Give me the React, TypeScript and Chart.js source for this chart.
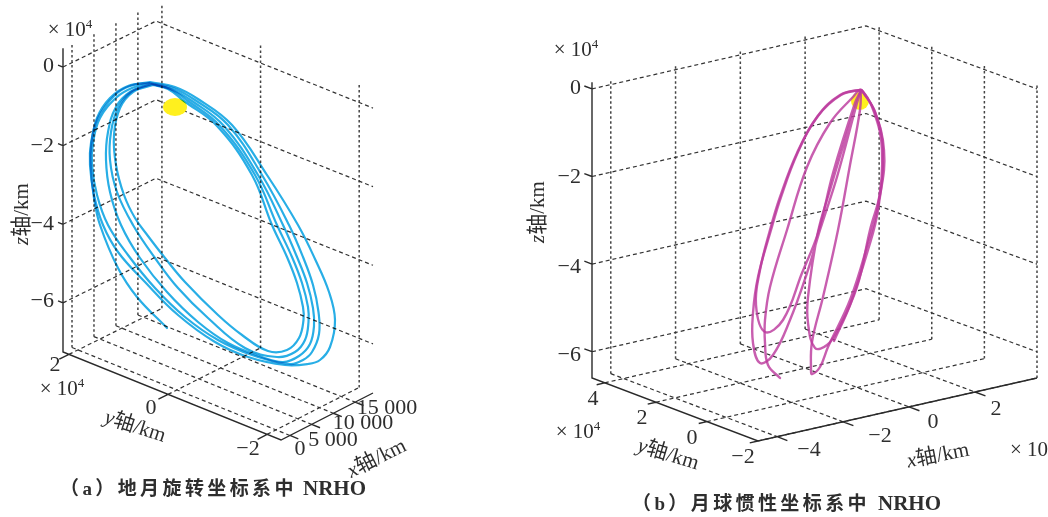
import React, { useEffect, useRef } from "react";
import { Chart, registerables } from "chart.js";

Chart.register(...registerables);

// ---------- panel (a): tick values ----------
const aXTicks = [0, 5000, 10000, 15000];
const aXTickLabels = ["0", "5 000", "10 000", "15 000"];
const aYTicks = [2, 0, -2];
const aYTickLabels = ["2", "0", "\u22122"];
const aZTicks = [0, -2, -4, -6];
const aZTickLabels = ["0", "\u22122", "\u22124", "\u22126"];

// ---------- panel (b): tick values ----------
const bXTicks = [-4, -2, 0, 2];
const bXTickLabels = ["\u22124", "\u22122", "0", "2"];
const bYTicks = [4, 2, 0, -2];
const bYTickLabels = ["4", "2", "0", "\u22122"];
const bZTicks = [0, -2, -4, -6];
const bZTickLabels = ["0", "\u22122", "\u22124", "\u22126"];

// ---------- orbit traces (projected plane) ----------
const orbitA1 = [[150, 82], [175, 87], [198, 99], [232, 125], [267, 175], [298, 225], [315, 259], [329, 292], [335, 320], [330, 347], [320, 360], [308, 364], [285, 365], [248, 357], [215, 342], [178, 315], [145, 282], [118, 252], [103, 225], [94, 195], [90, 165], [91, 143], [98, 118], [115, 95], [130, 86], [150, 82]];
const orbitA2 = [[150, 83], [173, 88], [195, 100], [228, 125], [262, 175], [289, 225], [303, 257], [313, 285], [318.5, 312], [319, 334], [312, 352], [303, 360], [290, 364], [252, 355], [218, 340], [185, 317], [155, 288], [128, 255], [108, 225], [97, 195], [92, 165], [93, 143], [100, 118], [117, 97], [132, 88], [150, 83]];
const orbitA3 = [[151, 84], [171, 89], [192, 101], [224, 126], [258, 175], [283, 225], [297, 257], [307, 283], [313, 308], [314, 326], [310, 344], [299, 356], [283, 362], [262, 357], [228, 343], [198, 322], [167, 292], [140, 258], [121, 225], [110, 192], [106, 160], [108, 132], [116, 107], [130, 92], [151, 84]];
const orbitA4 = [[152, 84], [170, 89], [188, 101], [220, 126], [255, 175], [277, 225], [292, 257], [302, 283], [308, 307], [308.5, 322], [305, 340], [295, 352], [277, 357], [245, 348], [208, 318], [178, 288], [155, 258], [133, 225], [117, 192], [110, 160], [111, 132], [118, 108], [131, 92], [152, 84]];
const orbitA5 = [[153, 85], [168, 89], [184, 101], [217, 126], [252, 175], [272, 225], [287, 257], [297, 283], [303, 307], [303.5, 320], [299, 338], [287, 350], [268, 351], [242, 335], [218, 315], [185, 282], [165, 258], [148, 236], [135, 218], [124, 195], [116, 165], [114, 135], [120, 108], [133, 92], [153, 85]];
const orbitA6 = [[149, 83], [128, 86], [110, 98], [97, 118], [91, 147], [91, 170], [94, 198], [100, 225], [118, 268], [137, 297], [167, 328]];

const orbitB1 = [[834, 341], [850, 305], [868, 250], [878, 210], [883, 150], [875, 112], [863, 92], [861, 90], [840, 95], [817, 117], [797, 153], [780, 197], [770, 230], [760, 270], [756, 305], [765, 332], [783, 320], [802, 273], [818, 233], [833, 173], [855, 103], [861, 90]];
const orbitB2 = [[861, 90], [845, 140], [830, 190], [818, 232], [808, 297], [808, 323], [815, 348], [827, 345], [838, 330], [857, 287], [870, 230], [881, 190], [884, 150], [875, 112], [863, 92], [861, 90], [841, 95], [818, 116], [798, 152], [781, 197], [771, 230], [758, 277], [753, 313], [753, 343], [760, 363], [773, 355], [790, 320], [807, 273], [820, 230], [837, 177], [857, 103], [861, 90]];
const orbitB3 = [[861, 90], [860, 110], [850, 165], [838, 230], [823, 297], [812, 342], [811, 370], [812, 374], [820, 367], [828, 347], [850, 300], [868, 243], [878, 205], [882, 150], [874, 112], [861, 90], [853, 97], [830, 123], [807, 167], [787, 230], [770, 287], [765, 320], [765, 343], [768, 365], [780, 378]];

const moonA = [[175, 107]];
const moonB = [[860, 101]];

const SERIF = '"Liberation Serif","Noto Sans CJK SC"';
const INK = "#2e2e2e";

type Pt = [number, number];
type Frame = {
  A: Pt; B: Pt; C: Pt; D: Pt;
  xr: [number, number]; yr: [number, number]; zr: [number, number];
  zUnit: number;
};

const frameA: Frame = { A: [63, 352], B: [281, 440], C: [373, 393], D: [156, 306], xr: [-2050, 19120], yr: [-2.28, 2.12], zr: [-7.25, 0.45], zUnit: 39.3 };
const frameB: Frame = { A: [592, 378], B: [758, 441], C: [1037, 378], D: [866, 315], xr: [-4.58, 3.88], yr: [-2, 4.5], zr: [-6.6, 0.12], zUnit: 43.8 };

function project(f: Frame, x: number, y: number, z: number) {
  const u = (x - f.xr[0]) / (f.xr[1] - f.xr[0]);
  const v = (f.yr[1] - y) / (f.yr[1] - f.yr[0]);
  const mix = (i: 0 | 1) =>
    (1 - u) * ((1 - v) * f.A[i] + v * f.B[i]) + u * ((1 - v) * f.D[i] + v * f.C[i]);
  return { x: mix(0), y: mix(1) - (z - f.zr[0]) * f.zUnit };
}

const GAP = { x: NaN, y: NaN };

function buildFrame(
  f: Frame, xT: number[], yT: number[], zT: number[],
  tick: { z: number; y: number; x: number }
) {
  const [x0, x1] = f.xr, [y0, y1] = f.yr, [z0, z1] = f.zr;
  const dashed: any[] = [];
  const dotted: any[] = [];
  const solid: any[] = [];
  const seg = (arr: any[], a: any, b: any) => arr.push(a, b, GAP);
  zT.forEach((z) => {
    dashed.push(project(f, x0, y1, z), project(f, x1, y1, z), project(f, x1, y0, z), GAP);
    seg(solid, project(f, x0, y1, z), project(f, x0, y1 + tick.z, z));
  });
  xT.forEach((x) => {
    seg(dashed, project(f, x, y1, z0), project(f, x, y0, z0));
    seg(dotted, project(f, x, y1, z0), project(f, x, y1, z1));
    seg(solid, project(f, x, y0, z0), project(f, x, y0 - tick.x, z0));
  });
  yT.forEach((y) => {
    seg(dashed, project(f, x0, y, z0), project(f, x1, y, z0));
    seg(dotted, project(f, x1, y, z0), project(f, x1, y, z1));
    seg(solid, project(f, x0, y, z0), project(f, x0 - tick.y, y, z0));
  });
  solid.push(project(f, x0, y1, z1 + 0.03), project(f, x0, y1, z0), project(f, x0, y0, z0), project(f, x1, y0, z0));
  return { dashed, dotted, solid };
}

function moonSprite(rx: number, ry: number) {
  const c = document.createElement("canvas");
  c.width = Math.ceil(rx * 2);
  c.height = Math.ceil(ry * 2);
  const g = c.getContext("2d")!;
  g.fillStyle = "#fff01e";
  g.beginPath();
  g.ellipse(rx, ry, rx, ry, 0, 0, Math.PI * 2);
  g.fill();
  return c;
}

type Run = [string, string?];
type Label = { runs: Run[]; x: number; y: number; rot?: number; align?: "left" | "center" | "right"; size?: number; weight?: string; spacing?: number };

function textPlugin(labels: Label[], blend: string) {
  return {
    id: "panelText",
    beforeDatasetDraw(chart: any, args: any) {
      if (args.meta.order === 1) {
        chart.ctx.save();
        chart.ctx.globalCompositeOperation = blend;
      }
    },
    afterDatasetDraw(chart: any, args: any) {
      if (args.meta.order === 1) chart.ctx.restore();
    },
    afterDatasetsDraw(chart: any) {
      const ctx = chart.ctx as CanvasRenderingContext2D;
      const xs = chart.scales.x, ys = chart.scales.y;
      labels.forEach((l) => {
        const size = l.size ?? 19;
        ctx.save();
        ctx.fillStyle = INK;
        ctx.textBaseline = "middle";
        ctx.textAlign = "left";
        (ctx as any).letterSpacing = `${l.spacing ?? 0}px`;
        const fontOf = (r: Run) => {
          if (r[1] === "sup") return `${Math.round(size * 0.62)}px ${SERIF}`;
          return `${r[1] === "italic" ? "italic " : ""}${l.weight ?? ""} ${size}px ${SERIF}`;
        };
        let total = 0;
        l.runs.forEach((r) => { ctx.font = fontOf(r); total += ctx.measureText(r[0]).width; });
        ctx.translate(xs.getPixelForValue(l.x), ys.getPixelForValue(l.y));
        ctx.rotate(((l.rot ?? 0) * Math.PI) / 180);
        let cx = l.align === "left" ? 0 : l.align === "right" ? -total : -total / 2;
        l.runs.forEach((r) => {
          ctx.font = fontOf(r);
          ctx.fillText(r[0], cx, r[1] === "sup" ? -size * 0.25 : 0);
          cx += ctx.measureText(r[0]).width;
        });
        ctx.restore();
      });
    },
  };
}

const lineStyle = { showLine: true, pointRadius: 0, pointHoverRadius: 0, fill: false };
const toPts = (a: number[][]) => a.map(([x, y]) => ({ x, y }));

function Panel(props: {
  left: number; width: number; xMin: number; xMax: number;
  frame: { dashed: any[]; dotted: any[]; solid: any[] };
  orbits: number[][][]; orbitColor: string; orbitWidth: number; blend: string;
  moon: number[][]; moonImg: () => HTMLCanvasElement; labels: Label[];
}) {
  const ref = useRef<HTMLCanvasElement>(null);
  useEffect(() => {
    const chart = new Chart(ref.current!, {
      type: "scatter",
      data: {
        datasets: [
          { ...lineStyle, data: props.frame.dashed, borderColor: "#333", borderWidth: 1.2, borderDash: [4, 3], tension: 0, order: 5 },
          { ...lineStyle, data: props.frame.dotted, borderColor: "#444", borderWidth: 1.5, borderDash: [2.5, 2.5], tension: 0, order: 5 },
          { ...lineStyle, data: props.frame.solid, borderColor: "#2a2a2a", borderWidth: 1.4, tension: 0, order: 4 },
          { data: toPts(props.moon), showLine: false, pointStyle: props.moonImg(), pointRadius: 9, order: 3 },
          ...props.orbits.map((o) => ({
            ...lineStyle, data: toPts(o), borderColor: props.orbitColor, borderWidth: props.orbitWidth,
            tension: 0.4, borderCapStyle: "round", borderJoinStyle: "round", order: 1,
          })),
        ],
      } as any,
      options: {
        animation: false, responsive: false, maintainAspectRatio: false,
        layout: { padding: 0, autoPadding: false },
        plugins: { legend: { display: false }, title: { display: false }, tooltip: { enabled: false } },
        events: [],
        scales: {
          x: { type: "linear", display: false, min: props.xMin, max: props.xMax },
          y: { type: "linear", display: false, min: 0, max: 517, reverse: true },
        },
      },
      plugins: [textPlugin(props.labels, props.blend)],
    } as any);
    return () => chart.destroy();
  }, []);
  return (
    <canvas
      ref={ref}
      width={props.width}
      height={517}
      style={{ position: "absolute", left: props.left, top: 0, width: props.width, height: 517 }}
    />
  );
}

const at = (vals: string[], pos: number[][], extra: Partial<Label> = {}): Label[] =>
  vals.map((t, i) => ({ runs: [[t]], x: pos[i][0], y: pos[i][1], ...extra }));

const labelsA: Label[] = [
  ...at(aZTickLabels, [[54, 66], [54, 146], [54, 224], [54, 301]], { align: "right", size: 22 }),
  ...at(aYTickLabels, [[55, 365], [151, 408], [248, 449]], { size: 22 }),
  ...at(aXTickLabels, [[300, 449], [333, 440], [363, 423], [387, 408]], { size: 22 }),
  { runs: [["\u00d7 10"], ["4", "sup"]], x: 70, y: 30, size: 21 },
  { runs: [["\u00d7 10"], ["4", "sup"]], x: 62, y: 389, size: 21 },
  { runs: [["z", "italic"], ["\u8f74/km"]], x: 22, y: 214, rot: -90, size: 21 },
  { runs: [["y", "italic"], ["\u8f74/km"]], x: 135, y: 427, rot: 18, size: 21 },
  { runs: [["x", "italic"], ["\u8f74/km"]], x: 377, y: 459, rot: -26.5, size: 21 },
  { runs: [["\uff08a\uff09\u5730\u6708\u65cb\u8f6c\u5750\u6807\u7cfb\u4e2d"]], x: 60, y: 490, size: 19, weight: "bold", spacing: 3.4, align: "left" },
  { runs: [["NRHO"]], x: 366, y: 490, size: 21, weight: "bold", align: "right" },
];

const labelsB: Label[] = [
  ...at(bZTickLabels, [[581, 88], [581, 177], [581, 267], [581, 355]], { align: "right", size: 22 }),
  ...at(bYTickLabels, [[593, 399], [642, 418], [692, 438], [743, 457]], { size: 22 }),
  ...at(bXTickLabels, [[809, 450], [880, 436], [933, 422], [996, 409]], { size: 22 }),
  { runs: [["\u00d7 10"], ["4", "sup"]], x: 576, y: 50, size: 21 },
  { runs: [["\u00d7 10"], ["4", "sup"]], x: 578, y: 432, size: 21 },
  { runs: [["\u00d7 10"]], x: 1010, y: 450, size: 21, align: "left" },
  { runs: [["z", "italic"], ["\u8f74/km"]], x: 538, y: 212, rot: -90, size: 21 },
  { runs: [["y", "italic"], ["\u8f74/km"]], x: 668, y: 455, rot: 17, size: 21 },
  { runs: [["x", "italic"], ["\u8f74/km"]], x: 938, y: 456, rot: -11, size: 21 },
  { runs: [["\uff08b\uff09\u6708\u7403\u60ef\u6027\u5750\u6807\u7cfb\u4e2d"]], x: 632, y: 505, size: 19, weight: "bold", spacing: 3.4, align: "left" },
  { runs: [["NRHO"]], x: 941, y: 505, size: 21, weight: "bold", align: "right" },
];

export default function App() {
  const gridA = buildFrame(frameA, aXTicks, aYTicks, aZTicks, { z: 0.1, y: 2200, x: 0.17 });
  const gridB = buildFrame(frameB, bXTicks, bYTicks, bZTicks, { z: 0.3, y: 0.25, x: 0.4 });
  return (
    <div style={{ position: "absolute", left: 0, top: 0, width: 1048, height: 517, background: "#fff", overflow: "hidden" }}>
      <Panel
        left={0} width={524} xMin={0} xMax={524} frame={gridA}
        orbits={[orbitA1, orbitA2, orbitA3, orbitA4, orbitA5, orbitA6]}
        orbitColor="#28aee6" orbitWidth={2.2} blend="multiply"
        moon={moonA} moonImg={() => moonSprite(12, 9)} labels={labelsA}
      />
      <Panel
        left={524} width={524} xMin={524} xMax={1048} frame={gridB}
        orbits={[orbitB1, orbitB2, orbitB3]}
        orbitColor="rgba(188,58,158,0.82)" orbitWidth={2.4} blend="source-over"
        moon={moonB} moonImg={() => moonSprite(9, 9)} labels={labelsB}
      />
    </div>
  );
}
